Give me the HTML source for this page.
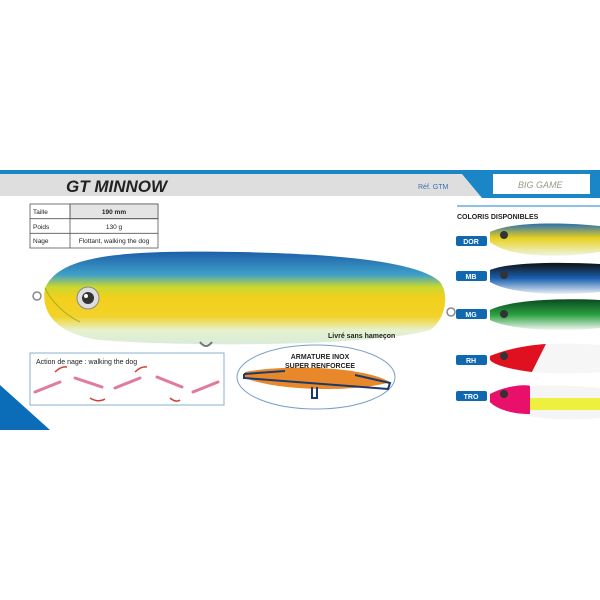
<!DOCTYPE html>
<html><head><style>
body{margin:0;background:#fff}
svg{display:block}
text{font-family:"Liberation Sans",sans-serif}
</style></head><body>
<svg width="600" height="600" viewBox="0 0 600 600">
<defs>
<linearGradient id="main" x1="0" y1="0" x2="0" y2="1">
<stop offset="0" stop-color="#1d5fa8"/><stop offset="0.25" stop-color="#3fa0c8"/><stop offset="0.38" stop-color="#c9d830"/><stop offset="0.5" stop-color="#f3d01c"/><stop offset="0.7" stop-color="#f2d22a"/><stop offset="0.85" stop-color="#e6f2d0"/><stop offset="1" stop-color="#d9ecd8"/>
</linearGradient>
<linearGradient id="mb" x1="0" y1="0" x2="0" y2="1"><stop offset="0" stop-color="#111"/><stop offset="0.5" stop-color="#1a60b0"/><stop offset="1" stop-color="#e8eef5"/></linearGradient>
<linearGradient id="mg" x1="0" y1="0" x2="0" y2="1"><stop offset="0" stop-color="#0a4a20"/><stop offset="0.5" stop-color="#2aa040"/><stop offset="1" stop-color="#eef5ee"/></linearGradient>
<linearGradient id="dor" x1="0" y1="0" x2="0" y2="1"><stop offset="0" stop-color="#2a70b0"/><stop offset="0.45" stop-color="#e8d020"/><stop offset="1" stop-color="#eef5e0"/></linearGradient>
</defs>
<!-- header band -->
<rect x="0" y="170" width="600" height="4" fill="#1a86c8"/>
<polygon points="0,174 462,174 482,196 0,196" fill="#dedede"/>
<polygon points="462,174 600,174 600,198 482,198" fill="#1a86c8"/>
<rect x="493" y="174" width="97" height="20" fill="#fff"/>
<text x="518" y="188" font-size="9" fill="#998" font-style="italic">BIG GAME</text>
<text x="66" y="192" font-size="17" font-weight="bold" font-style="italic" fill="#222">GT MINNOW</text>
<text x="418" y="189" font-size="7" fill="#3a72b0">Réf. GTM</text>
<line x1="457" y1="206" x2="600" y2="206" stroke="#1a86c8" stroke-width="1"/>
<text x="457" y="219" font-size="7" font-weight="bold" fill="#222">COLORIS DISPONIBLES</text>
<!-- table -->
<g font-size="6.5" fill="#222" stroke="none">
<rect x="30" y="204" width="128" height="44" fill="#fff" stroke="#555" stroke-width="0.8"/>
<rect x="70" y="204" width="88" height="14.7" fill="#e4e4e4" stroke="#555" stroke-width="0.8"/>
<line x1="30" y1="218.7" x2="158" y2="218.7" stroke="#555" stroke-width="0.8"/>
<line x1="30" y1="233.3" x2="158" y2="233.3" stroke="#555" stroke-width="0.8"/>
<line x1="70" y1="204" x2="70" y2="248" stroke="#555" stroke-width="0.8"/>
<text x="33" y="214">Taille</text><text x="33" y="229">Poids</text><text x="33" y="243">Nage</text>
<text x="114" y="214" text-anchor="middle" font-weight="bold">190 mm</text>
<text x="114" y="229" text-anchor="middle">130 g</text>
<text x="114" y="243" text-anchor="middle">Flottant, walking the dog</text>
</g>
<!-- main lure -->
<path d="M45,288 C60,255 120,250 240,252 C340,254 420,262 440,282 C450,295 445,320 430,330 C380,345 200,348 100,340 C60,335 40,315 45,288Z" fill="url(#main)"/>
<path d="M45,288 C50,300 65,315 80,322" stroke="#a8b020" fill="none"/>
<circle cx="88" cy="298" r="11" fill="#ddd" stroke="#888"/>
<circle cx="88" cy="298" r="6" fill="#333"/>
<circle cx="86" cy="296" r="2" fill="#fff"/>
<circle cx="37" cy="296" r="4" fill="none" stroke="#888" stroke-width="1.5"/>
<circle cx="451" cy="312" r="4" fill="none" stroke="#888" stroke-width="1.5"/>
<path d="M200,342 q6,8 12,0" stroke="#777" fill="none" stroke-width="2"/>
<text x="328" y="338" font-size="7" font-weight="bold" fill="#222">Livré sans hameçon</text>
<!-- left triangle -->
<polygon points="0,385 50,430 0,430" fill="#0b6db8"/>
<!-- action box -->
<rect x="30" y="353" width="194" height="52" fill="#fff" stroke="#8ab0cc"/>
<text x="36" y="364" font-size="7" fill="#222">Action de nage : walking the dog</text>
<g stroke="#e07aa0" stroke-width="3" stroke-linecap="round">
<line x1="35" y1="392" x2="60" y2="382"/><line x1="75" y1="378" x2="102" y2="387"/><line x1="115" y1="388" x2="140" y2="378"/><line x1="157" y1="377" x2="182" y2="387"/><line x1="193" y1="392" x2="218" y2="382"/>
</g>
<g stroke="#d04030" stroke-width="1.5" fill="none">
<path d="M55,372 q6,-6 12,-5"/><path d="M90,398 q8,5 15,1"/><path d="M135,372 q6,-6 12,-5"/><path d="M170,398 q6,5 10,2"/>
</g>
<!-- armature -->
<ellipse cx="316" cy="377" rx="79" ry="32" fill="#fff" stroke="#7aa0c8"/>
<path d="M245,372 C280,365 360,365 390,382 C360,392 280,392 245,378Z" fill="#e8882a"/>
<path d="M244,374 L285,371 M244,374 L244,378 L388,389 L390,383 L355,375 M312,387 L312,398 L317,398 L317,387" stroke="#1a3a6a" stroke-width="2" fill="none"/>
<text x="320" y="359" font-size="7" font-weight="bold" text-anchor="middle" fill="#222">ARMATURE INOX</text>
<text x="320" y="368" font-size="7" font-weight="bold" text-anchor="middle" fill="#222">SUPER RENFORCEE</text>
<!-- color lures -->
<path d="M490,232 C510,222 560,222 600,226 L600,252 C560,258 510,258 490,242Z" fill="url(#dor)"/>
<path d="M490,270 C510,262 560,262 600,264 L600,292 C560,296 510,294 490,282Z" fill="url(#mb)"/>
<path d="M490,310 C510,300 560,298 600,300 L600,328 C560,332 510,330 490,320Z" fill="url(#mg)"/>
<path d="M490,356 C510,348 530,345 546,344 L532,372 C515,370 495,366 490,360Z" fill="#e01020"/>
<path d="M546,344 C570,343 590,344 600,345 L600,372 C580,374 550,374 532,372Z" fill="#f6f6f6"/>
<path d="M490,394 C510,384 560,384 600,388 L600,418 C560,422 510,418 490,402Z" fill="#f5f5f5"/>
<path d="M490,394 C505,386 525,384 530,386 L530,414 C510,414 495,408 490,402Z" fill="#e8106a"/>
<path d="M530,398 L600,398 L600,410 L530,410Z" fill="#eef040"/>
<g fill="#333"><circle cx="504" cy="235" r="4"/><circle cx="504" cy="275" r="4"/><circle cx="504" cy="314" r="4"/><circle cx="504" cy="356" r="4"/><circle cx="504" cy="394" r="4"/></g>
<g font-size="7" font-weight="bold" fill="#fff" text-anchor="middle">
<rect x="456" y="236" width="31" height="10" rx="2" fill="#1068b0"/><text x="471" y="244">DOR</text>
<rect x="456" y="271" width="31" height="10" rx="2" fill="#1068b0"/><text x="471" y="279">MB</text>
<rect x="456" y="309" width="31" height="10" rx="2" fill="#1068b0"/><text x="471" y="317">MG</text>
<rect x="456" y="355" width="31" height="10" rx="2" fill="#1068b0"/><text x="471" y="363">RH</text>
<rect x="456" y="391" width="31" height="10" rx="2" fill="#1068b0"/><text x="471" y="399">TRO</text>
</g>
</svg>
</body></html>
